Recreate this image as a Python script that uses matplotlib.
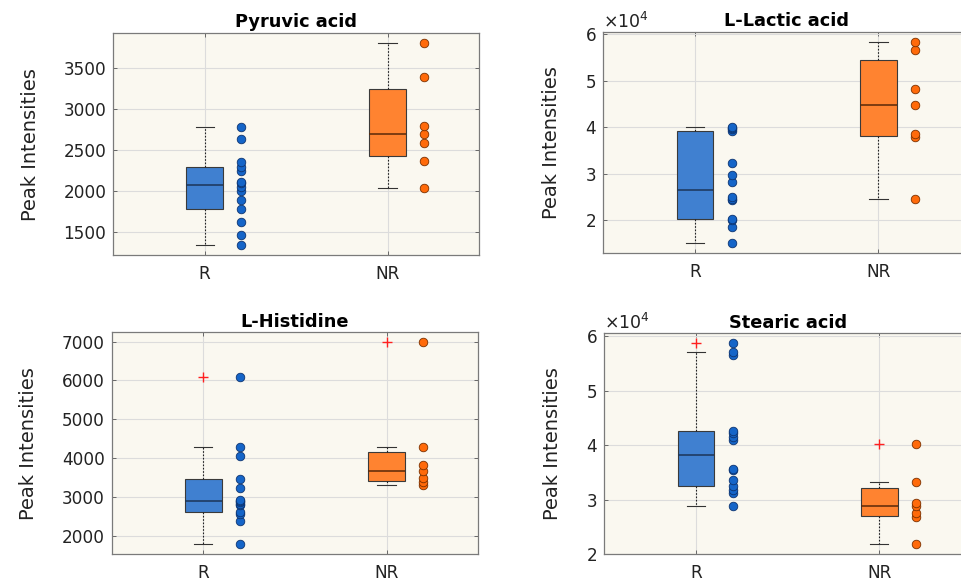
import numpy as np
import matplotlib
matplotlib.use('Agg')
import matplotlib.pyplot as plt
from matplotlib.ticker import ScalarFormatter

plt.rcParams['font.family'] = ['DejaVu Sans']

groups = ['R', 'NR']
titles = ['Pyruvic acid', 'L-Lactic acid', 'L-Histidine', 'Stearic acid']

# peak intensities, R group (14) and NR group (7)
pyruvic_r = [1334, 1460, 1622, 1777, 1887, 2000, 2041, 2090, 2110, 2240, 2285, 2354, 2630, 2773]
pyruvic_nr = [2037, 2366, 2581, 2695, 2793, 3386, 3801]
lactic_r = [14980, 18430, 20000, 20150, 24400, 24550, 25020, 28120, 29630, 32280,
            39240, 39500, 39800, 39950]
lactic_nr = [24459, 37814, 38524, 44771, 48282, 56553, 58406]
histidine_r = [1786, 2386, 2559, 2618, 2790, 2817, 2868, 2905, 2920, 3237, 3461, 4054, 4293, 6097]
histidine_nr = [3306, 3392, 3479, 3670, 3822, 4278, 6990]
stearic_r = [28850, 31150, 31700, 32450, 33550, 35500, 35650, 40900, 41500, 42200,
             42550, 56650, 57150, 58850]
stearic_nr = [21832, 26834, 27511, 28848, 29288, 33190, 40152]

data = [(pyruvic_r, pyruvic_nr), (lactic_r, lactic_nr),
        (histidine_r, histidine_nr), (stearic_r, stearic_nr)]
ylims = [(1212, 3923), (12830, 60500), (1528, 7242), (20000, 60600)]
yticks = [[1500, 2000, 2500, 3000, 3500], [20000, 30000, 40000, 50000, 60000],
          [2000, 3000, 4000, 5000, 6000, 7000], [20000, 30000, 40000, 50000, 60000]]

# [left, bottom, width, height] in figure fractions
boxes = [[0.1179, 0.5606, 0.3805, 0.3826],
         [0.6278, 0.5640, 0.3816, 0.3810],
         [0.1162, 0.0465, 0.3815, 0.3816],
         [0.6288, 0.0465, 0.3816, 0.3800]]

fill = ['#4080d0', '#ff8330']
pt_col = ['#1565c8', '#ff6a0a']
pt_edge = ['#0d3470', '#7a3000']
med_col = ['#1c3558', '#5a2808']
bg = '#faf8f0'


def box_stats(v):
    # matlab style quartiles
    v = np.sort(np.asarray(v, float))
    q1, med, q3 = np.percentile(v, [25, 50, 75], method='hazen')
    iqr = q3 - q1
    lo = v[v >= q1 - 1.5 * iqr].min()
    hi = v[v <= q3 + 1.5 * iqr].max()
    return dict(med=med, q1=q1, q3=q3, whislo=lo, whishi=hi,
                fliers=v[(v < lo) | (v > hi)])


fig = plt.figure(figsize=(9.61, 5.81), dpi=100)

for k in range(4):
    ax = fig.add_axes(boxes[k])
    ax.set_facecolor(bg)
    stats = [box_stats(d) for d in data[k]]
    bp = ax.bxp(stats, positions=[1, 2], widths=0.2, patch_artist=True,
                boxprops=dict(edgecolor='#3a3a3a', linewidth=0.8),
                whiskerprops=dict(color='#222222', linewidth=0.8, linestyle=(0, (1.5, 1.5))),
                capprops=dict(color='#333333', linewidth=0.8),
                medianprops=dict(linewidth=1.1),
                flierprops=dict(marker='+', markeredgecolor='#ff2020',
                                markersize=7, markeredgewidth=1.0, zorder=4),
                zorder=2)
    for i in range(2):
        bp['boxes'][i].set_facecolor(fill[i])
        bp['medians'][i].set_color(med_col[i])
        y = data[k][i]
        ax.scatter(np.full(len(y), i + 1.2), y, s=38, color=pt_col[i],
                   edgecolor=pt_edge[i], linewidth=0.6, zorder=3)

    ax.set_xlim(0.5, 2.5)
    ax.set_ylim(*ylims[k])
    ax.set_yticks(yticks[k])
    ax.set_xticks([1, 2])
    ax.set_xticklabels(groups)
    if k in (1, 3):
        fmt = ScalarFormatter(useMathText=True)
        fmt.set_powerlimits((0, 0))
        ax.yaxis.set_major_formatter(fmt)
        ax.yaxis.get_offset_text().set_fontsize(12.5)
        ax.yaxis.get_offset_text().set_color('#333333')
    ax.grid(True, color='#dcdcdc', linewidth=0.8, zorder=0)
    ax.set_axisbelow(True)
    ax.tick_params(direction='in', length=3, width=0.6, color='#555555',
                   labelsize=12.2, labelcolor='#222222', pad=5,
                   top=True, right=True)
    ax.tick_params(axis='x', pad=7)
    for s in ax.spines.values():
        s.set_color('#7a7a7a')
        s.set_linewidth(0.9)
    ax.set_ylabel('Peak Intensities', fontsize=14, color='#222222', labelpad=17)
    ax.set_title(titles[k], fontsize=12.8, fontweight='bold', pad=4)

fig.savefig('out.png', dpi=100)
